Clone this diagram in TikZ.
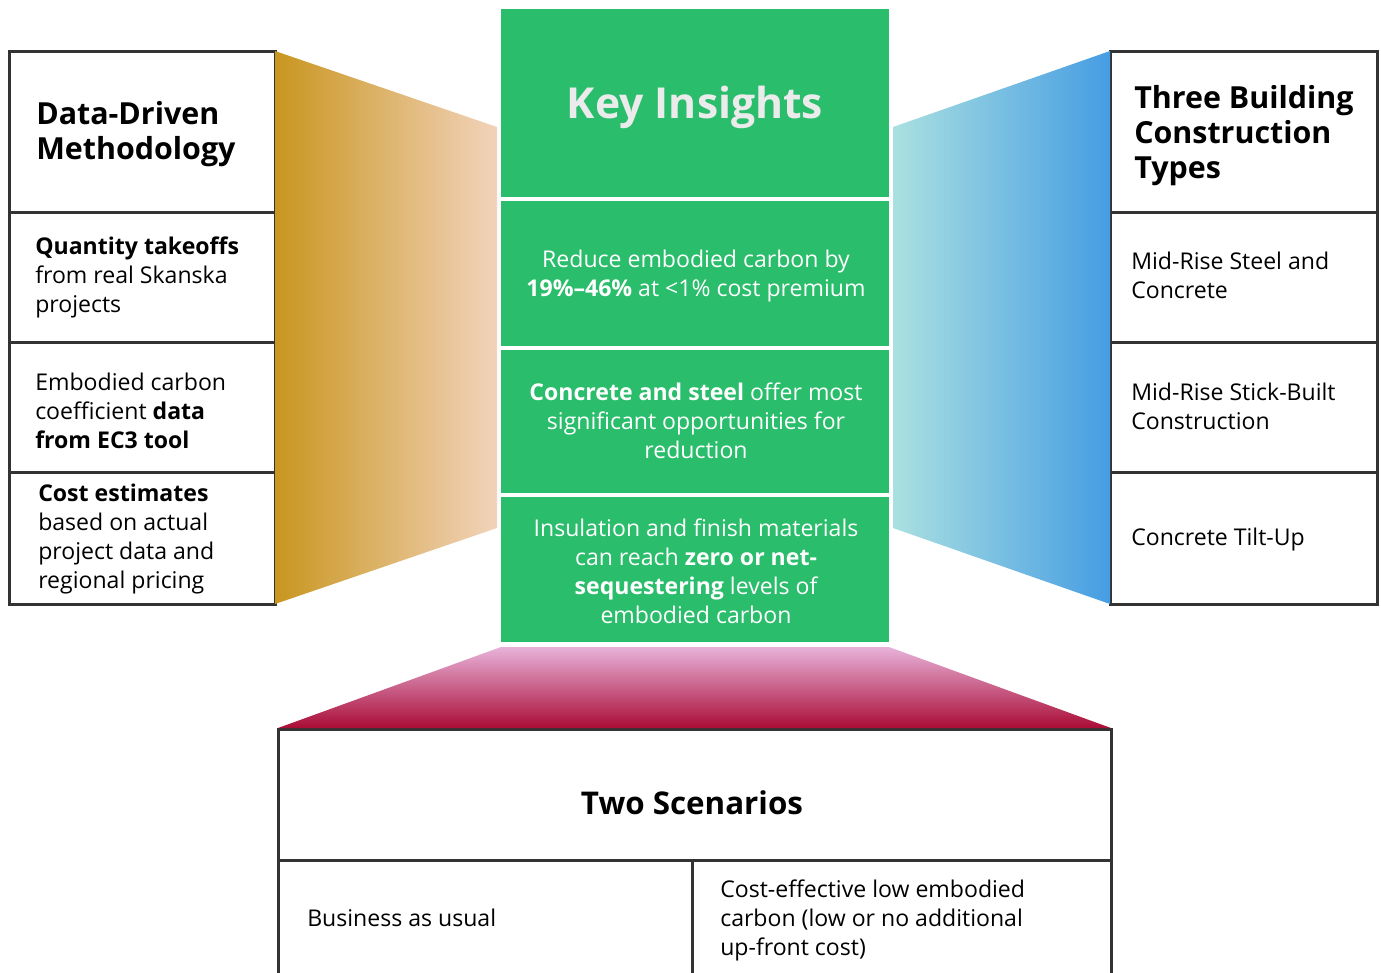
\documentclass[tikz,border=0pt]{standalone}
\usepackage{fontspec}
\setmainfont{Open Sans}
\newfontfamily\titlefont{Open Sans}
\definecolor{kgreen}{HTML}{2ABD6B}
\definecolor{kgold}{HTML}{C9961F}
\definecolor{kpeach}{HTML}{F2D3BC}
\definecolor{kcyan}{HTML}{AAE0E0}
\definecolor{kblue}{HTML}{469DE3}
\definecolor{kpink}{HTML}{E8B2DA}
\definecolor{kcrim}{HTML}{AA0D36}
\definecolor{kline}{HTML}{333333}
\definecolor{ktitle}{HTML}{EBEBEB}
\tikzset{
  cell/.style={draw=kline, line width=2.25pt, fill=white, inner sep=0pt, outer sep=0pt, rectangle, anchor=north west},
  gcell/.style={fill=kgreen, inner sep=0pt, outer sep=0pt, rectangle, anchor=north west},
  body/.style={font=\fontsize{17.3}{21.75}\selectfont, align=left, inner sep=0pt, anchor=west, text=black},
  gbody/.style={font=\fontsize{17.3}{21.75}\selectfont, align=center, inner sep=0pt, text=white},
  ttl/.style={font=\titlefont\bfseries\fontsize{22.8}{26.25}\selectfont, align=left, inner sep=0pt, anchor=west, text=black},
}
\begin{document}
\begin{tikzpicture}[x=0.75pt,y=-0.75pt]
\useasboundingbox (0,0) rectangle (1381,972);
% left column
\node[cell, minimum width=199.5pt, minimum height=120.75pt] (l1) at (9,51) {};
\node[cell, minimum width=199.5pt, minimum height=97.5pt] (l2) at (9,212) {};
\node[cell, minimum width=199.5pt, minimum height=97.5pt] (l3) at (9,342) {};
\node[cell, minimum width=199.5pt, minimum height=99pt] (l4) at (9,472) {};
% right column
\node[cell, minimum width=200.25pt, minimum height=120.75pt] (r1) at (1110,51) {};
\node[cell, minimum width=200.25pt, minimum height=97.5pt] (r2) at (1110,212) {};
\node[cell, minimum width=200.25pt, minimum height=97.5pt] (r3) at (1110,342) {};
\node[cell, minimum width=200.25pt, minimum height=99pt] (r4) at (1110,472) {};
% green column
\node[gcell, minimum width=291pt, minimum height=141pt] (g1) at (501,9) {};
\node[gcell, minimum width=291pt, minimum height=108.75pt] (g2) at (501,201) {};
\node[gcell, minimum width=291pt, minimum height=107.25pt] (g3) at (501,350) {};
\node[gcell, minimum width=291pt, minimum height=108.75pt] (g4) at (501,497) {};
% bottom box
\node[cell, minimum width=624.75pt, minimum height=98.25pt] (b1) at (278,729) {};
\node[cell, minimum width=310.5pt, minimum height=88pt] (b2) at (278,860) {};
\node[cell, minimum width=314.25pt, minimum height=88pt] (b3) at (692,860) {};
% trapezoids
\coordinate (lt) at (497,127);
\coordinate (lb) at (497,528);
\coordinate (rt) at (893,127);
\coordinate (rb) at (893,528);
\coordinate (bl) at (278,728);
\coordinate (br) at (1111,728);
\coordinate (tl) at (501,647);
\coordinate (tr) at (889,647);
\shade[left color=kgold, right color=kpeach] (l1.north east) -- (lt) -- (lb) -- (l4.south east) -- cycle;
\shade[left color=kcyan, right color=kblue] (rt) -- (r1.north west) -- (r4.south west) -- (rb) -- cycle;
\shade[top color=kpink, bottom color=kcrim] (tl) -- (tr) -- (br) -- (bl) -- cycle;
% left texts
\node[ttl] (l1t) at (36,134) {Data-Driven\\Methodology};
\node[body] (l2t) at (35,277) {\textbf{Quantity takeoffs}\\from real Skanska\\projects};
\node[body] (l3t) at (35,411) {Embodied carbon\\coefficient \textbf{data}\\\textbf{from EC3 tool}};
\node[body] (l4t) at (38,539) {\textbf{Cost estimates}\\based on actual\\project data and\\regional pricing};
% right texts
\node[ttl] (r1t) at (1134,136) {Three Building\\Construction\\Types};
\node[body] (r2t) at (1131,275) {Mid-Rise Steel and\\Concrete};
\node[body] (r3t) at (1131,406) {Mid-Rise Stick-Built\\Construction};
\node[body] (r4t) at (1131,539) {Concrete Tilt-Up};
% green texts
\node[font=\titlefont\bfseries\fontsize{32}{36}\selectfont, text=ktitle, inner sep=0pt] (g1t) at (695,107) {Key Insights};
\node[gbody] (g2t) at (696,276) {Reduce embodied carbon by\\\textbf{19\%–46\%} at <1\% cost premium};
\node[gbody] (g3t) at (696,421) {\textbf{Concrete and steel} offer most\\significant opportunities for\\reduction};
\node[gbody] (g4t) at (696,571) {Insulation and finish materials\\can reach \textbf{zero or net-}\\\textbf{sequestering} levels of\\embodied carbon};
% bottom texts
\node[font=\titlefont\bfseries\fontsize{23.5}{28}\selectfont, inner sep=0pt] (b1t) at (692,803) {Two Scenarios};
\node[body] (b2t) at (307,918) {Business as usual};
\node[body] (b3t) at (720,920) {Cost-effective low embodied\\carbon (low or no additional\\up-front cost)};
\end{tikzpicture}
\end{document}
